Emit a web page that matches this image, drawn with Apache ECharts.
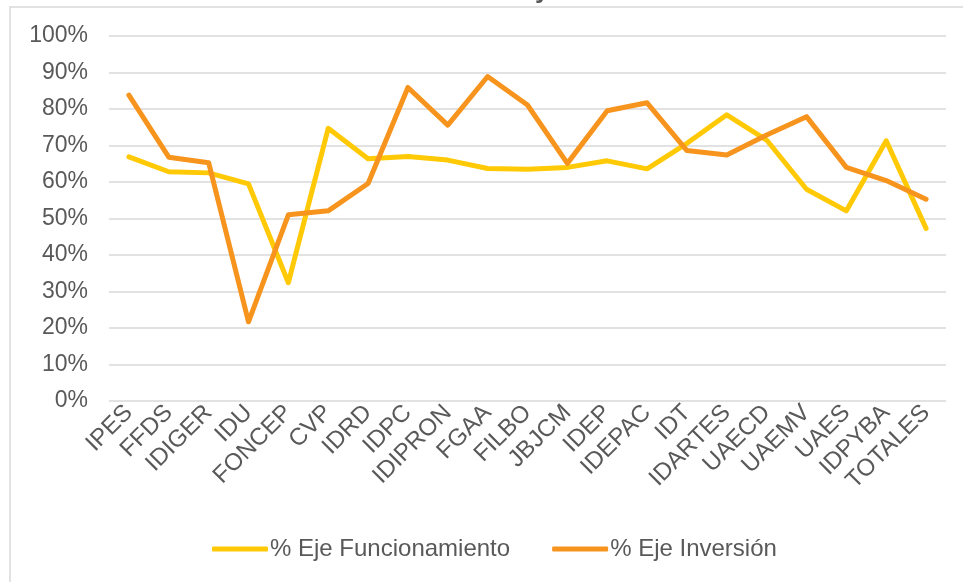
<!DOCTYPE html>
<html>
<head>
<meta charset="utf-8">
<script src="https://cdn.jsdelivr.net/npm/echarts@6/dist/echarts.min.js"></script>
<style>
html,body{margin:0;padding:0;background:#fff;}
#main{width:963px;height:582px;}
</style>
</head>
<body>
<div id="main"></div>
<script>
// datos
var categorias = ['IPES','FFDS','IDIGER','IDU','FONCEP','CVP','IDRD','IDPC','IDIPRON','FGAA','FILBO','JBJCM','IDEP','IDEPAC','IDT','IDARTES','UAECD','UAEMV','UAES','IDPYBA','TOTALES'];
var funcionamiento = [66.9,62.8,62.5,59.5,32.4,74.7,66.4,67.0,66.0,63.7,63.5,64.0,65.8,63.6,70.6,78.4,71.5,58.0,52.1,71.3,47.3];
var inversion = [83.8,66.8,65.3,21.7,51.0,52.1,59.6,85.9,75.6,88.9,81.1,65.1,79.5,81.7,68.6,67.4,72.9,77.9,64.0,60.4,55.3];
var nombres = ['% Eje Funcionamiento','% Eje Inversión'];

var fuente = '"Liberation Sans", Arial, sans-serif';
var grisTexto = '#595959';

var chart = echarts.init(document.getElementById('main'));

var option = {
	animation: false,
	backgroundColor: '#fff',
	color: ['#FFC906', '#F7941D'],
	graphic: [
		{
			type: 'rect',
			shape: {x: 10, y: 7, width: 980, height: 600},
			style: {fill: 'none', stroke: '#d9d9d9', lineWidth: 1.5},
			z: 0
		},
		{
			// resto del titulo que queda cortado arriba
			type: 'text',
			left: 535,
			top: -22,
			style: {text: 'y', font: 'bold 26px ' + fuente, fill: grisTexto}
		}
	],
	grid: {
		left: 109,
		right: 17,
		top: 36,
		bottom: 181,
		containLabel: false
	},
	legend: {
		bottom: 16,
		left: 207,
		itemWidth: 56,
		itemHeight: 5,
		itemGap: 42,
		icon: 'roundRect',
		textStyle: {color: grisTexto, fontSize: 24, fontFamily: fuente, padding: [0, 0, 0, -3]},
		data: nombres
	},
	xAxis: {
		type: 'category',
		data: categorias,
		boundaryGap: true,
		axisLine: {show: false},
		axisTick: {show: false},
		axisLabel: {
			rotate: 45,
			interval: 0,
			margin: 8,
			color: grisTexto,
			fontSize: 24,
			fontFamily: fuente
		}
	},
	yAxis: {
		type: 'value',
		min: 0,
		max: 100,
		interval: 10,
		axisLine: {show: false},
		axisTick: {show: false},
		axisLabel: {
			formatter: '{value}%',
			margin: 21,
			color: grisTexto,
			fontSize: 23,
			fontFamily: fuente
		},
		splitLine: {lineStyle: {color: '#d9d9d9', width: 1.5}}
	},
	series: [
		{
			name: nombres[0],
			type: 'line',
			data: funcionamiento,
			symbol: 'none',
			lineStyle: {width: 5, cap: 'round', join: 'round'},
			z: 3
		},
		{
			name: nombres[1],
			type: 'line',
			data: inversion,
			symbol: 'none',
			lineStyle: {width: 5, cap: 'round', join: 'round'},
			z: 4
		}
	]
};

chart.setOption(option);
</script>
</body>
</html>
